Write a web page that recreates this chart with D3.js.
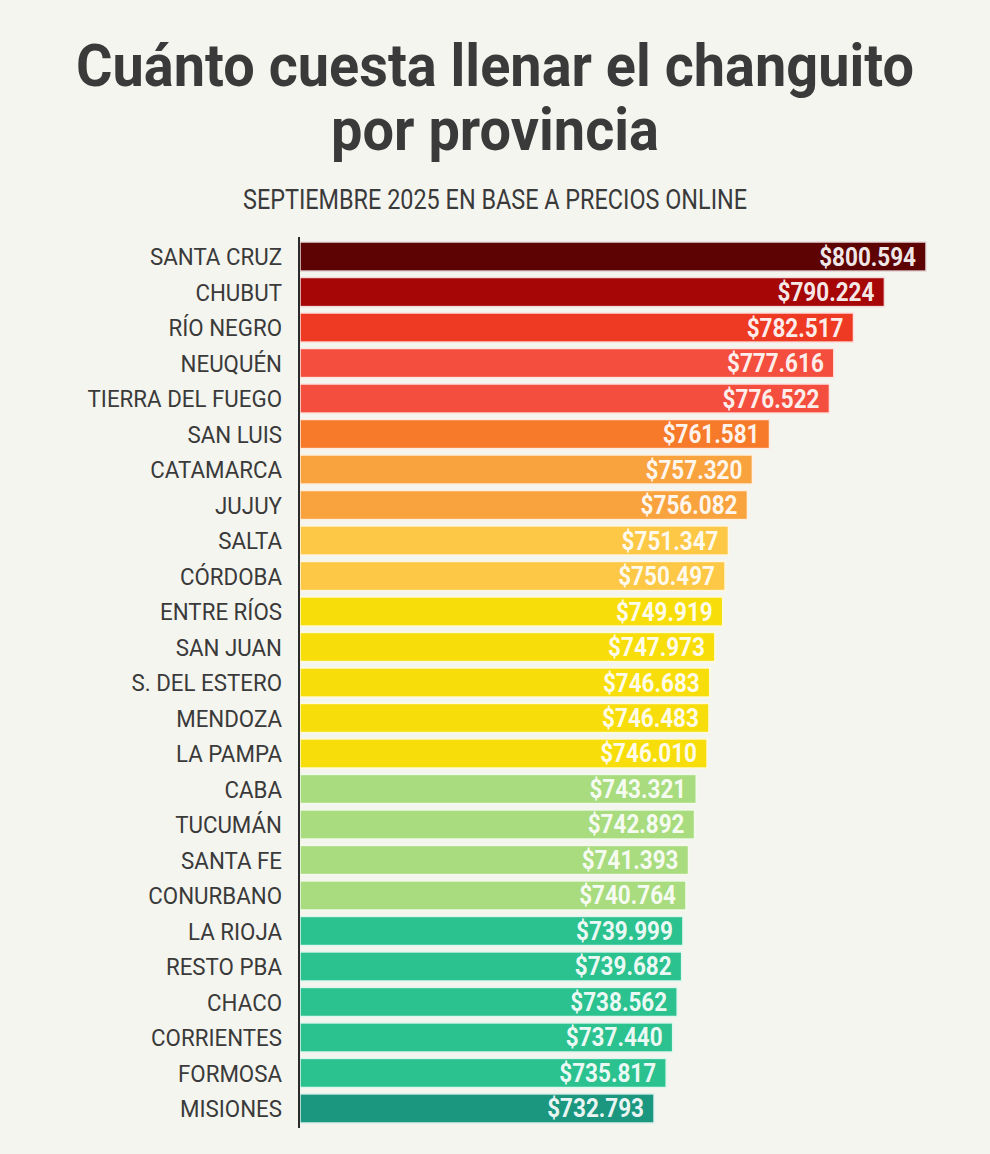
<!DOCTYPE html>
<html>
<head>
<meta charset="utf-8">
<script src="https://d3js.org/d3.v7.min.js"></script>
<style>
  html, body { margin:0; padding:0; background:#f5f5f0; }
  svg { display:block; }
  text { font-family: Roboto, "DejaVu Sans", sans-serif; }
</style>
</head>
<body>
<svg id="chart" width="990" height="1154"></svg>
<script>
// data
const provinces = ["SANTA CRUZ","CHUBUT","RÍO NEGRO","NEUQUÉN","TIERRA DEL FUEGO","SAN LUIS",
  "CATAMARCA","JUJUY","SALTA","CÓRDOBA","ENTRE RÍOS","SAN JUAN","S. DEL ESTERO","MENDOZA",
  "LA PAMPA","CABA","TUCUMÁN","SANTA FE","CONURBANO","LA RIOJA","RESTO PBA","CHACO",
  "CORRIENTES","FORMOSA","MISIONES"];
const prices = [800594,790224,782517,777616,776522,761581,757320,756082,751347,750497,
  749919,747973,746683,746483,746010,743321,742892,741393,740764,739999,739682,738562,
  737440,735817,732793];
// colour group of each bar
const tiers = [0,1,2,3,3,4,5,5,6,6,7,7,7,7,7,8,8,8,8,9,9,9,9,9,10];
const tierColors = ["#5e0303","#a60606","#ee3a23","#f44f3e","#f77a2b","#f9a33f",
  "#fcc845","#f7de0a","#a8dc7e","#2cc290","#1b977f"];
const title1 = "Cuánto cuesta llenar el changuito";
const title2 = "por provincia";
const subtitle = "SEPTIEMBRE 2025 EN BASE A PRECIOS ONLINE";

const svg = d3.select('#chart');
const axisX = 300;
const ink = '#3a3a3a';

const data = provinces.map((p, i) => ({ name:p, value:prices[i], tier:tiers[i] }));

const xScale = d3.scaleLinear()
  .domain([644550, 800594])
  .range([axisX, 926]);
const yScale = d3.scaleBand()
  .domain(provinces)
  .range([242, 1123])
  .paddingInner(0.18);

const money = d3.formatLocale({ decimal:',', thousands:'.', grouping:[3], currency:['$',''] }).format('$,');

// fit a text element horizontally to a target width (emulates the condensed face)
function squeeze(sel, w) {
  sel.attr('textLength', w).attr('lengthAdjust', 'spacingAndGlyphs');
}

// titles
svg.append('text').attr('x', 495).attr('y', 86).attr('text-anchor','middle')
  .style('font-size','60px').style('font-weight',700).style('fill',ink)
  .text(title1).call(squeeze, 838);
svg.append('text').attr('x', 495).attr('y', 150).attr('text-anchor','middle')
  .style('font-size','60px').style('font-weight',700).style('fill',ink)
  .text(title2).call(squeeze, 328);
svg.append('text').attr('x', 495).attr('y', 209).attr('text-anchor','middle')
  .style('font-size','28px').style('font-weight',400).style('fill',ink)
  .text(subtitle).call(squeeze, 504);

// bars
const g = svg.append('g');
g.selectAll('rect.bar')
  .data(data)
  .join('rect')
  .attr('class','bar')
  .attr('x', axisX)
  .attr('y', d => yScale(d.name))
  .attr('width', d => xScale(d.value) - axisX)
  .attr('height', yScale.bandwidth())
  .attr('fill', d => tierColors[d.tier])
  .attr('stroke', d => d3.interpolateRgb(tierColors[d.tier], '#ffffff')(0.85))
  .attr('stroke-width', 1.5);

// province labels, condensed by a horizontal scale
const labelCond = 0.93;
g.selectAll('text.label')
  .data(data)
  .join('text')
  .attr('class','label')
  .attr('transform', d => `translate(282,${yScale(d.name) + yScale.bandwidth()/2}) scale(${labelCond},1)`)
  .attr('text-anchor','end')
  .attr('dy','0.36em')
  .style('font-size','24px')
  .style('fill', ink)
  .text(d => d.name);

// value labels inside the bars
const valCond = 0.9;
g.selectAll('text.value')
  .data(data)
  .join('text')
  .attr('class','value')
  .attr('transform', d => `translate(${xScale(d.value) - 10},${yScale(d.name) + yScale.bandwidth()/2}) scale(${valCond},1)`)
  .attr('text-anchor','end')
  .attr('dy','0.36em')
  .style('font-size','25px')
  .style('font-weight',700)
  .style('fill','#ffffff')
  .style('fill-opacity',0.93)
  .text(d => money(d.value));

// vertical axis line
svg.append('line')
  .attr('x1', axisX - 1).attr('x2', axisX - 1)
  .attr('y1', 237).attr('y2', 1128)
  .attr('stroke', '#2b2b2b').attr('stroke-width', 2);
</script>
</body>
</html>
